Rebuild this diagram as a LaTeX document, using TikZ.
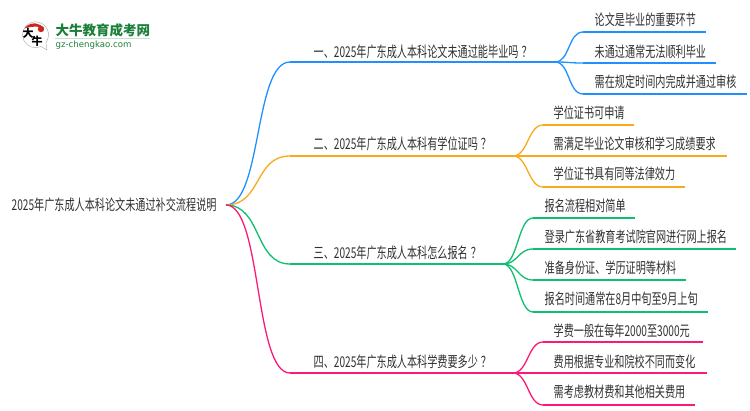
\documentclass[tikz,border=0pt]{standalone}
\usepackage{fontspec}
\setmainfont{Noto Sans CJK SC}[FakeStretch=0.68]
\newfontfamily\logofont{Noto Sans CJK SC}
\newfontfamily\logolatin{DejaVu Sans}
\definecolor{lineblue}{HTML}{2090FF}
\definecolor{lineorange}{HTML}{F8A91C}
\definecolor{linegreen}{HTML}{0DBF6F}
\definecolor{linepink}{HTML}{FB1A78}
\definecolor{logogreen}{HTML}{1B7F3A}
\definecolor{logored}{HTML}{C9261F}
\definecolor{textgray}{HTML}{303030}
\newcommand{\askmark}{\kern3pt？}
\tikzset{
    label node/.style={anchor=west,inner sep=0pt,text=textgray,font=\fontsize{14.9}{16}\selectfont},
    root curve/.style={out=0,in=180,out max distance=36pt,in max distance=36pt,out min distance=36pt,in min distance=36pt},
    leaf curve/.style={out=0,in=180,out max distance=15pt,in max distance=15pt,out min distance=15pt,in min distance=15pt},
}
\begin{document}
\begin{tikzpicture}[x=1pt,y=-1pt,line width=1.3pt]
            \useasboundingbox (0,0) rectangle (750,410);

            % logo
            \draw[line width=0.4pt,draw=black!35,fill=white] (47,50) -- (41,46.5) arc[start angle=65,end angle=395,radius=13] -- (46,43) -- cycle;
            \fill[logored] (24.5,28.5) arc[start angle=215,end angle=325,radius=12] .. controls (40,26) and (30,26) .. cycle;
            \fill[logored] (41,29) circle[radius=3.2];
            \node (logo da) at (28,33) {\logofont\bfseries\fontsize{11}{11}\selectfont 大};
            \node (logo niu) at (37,41) {\logofont\bfseries\fontsize{11}{11}\selectfont 牛};
            \node (logo title) [anchor=west,inner sep=0pt,text=logogreen] at (55,30) {\logofont\bfseries\fontsize{13.5}{14}\selectfont 大牛教育成考网};
            \node (logo url) [anchor=west,inner sep=0pt,text=logogreen] at (55,45) {\logolatin\fontsize{8.6}{9}\selectfont gz-chengkao.com};
            \draw[line width=0.5pt,draw=logogreen!25] (55,38.5) -- (150,38.5);

            % labels
            \node[label node] (root) at (11,205) {2025年广东成人本科论文未通过补交流程说明};

            \node[label node] (b1) at (313,52) {一、2025年广东成人本科论文未通过能毕业吗\askmark};
            \node[label node] (b2) at (313,144) {二、2025年广东成人本科有学位证吗\askmark};
            \node[label node] (b3) at (313,253) {三、2025年广东成人本科怎么报名\askmark};
            \node[label node] (b4) at (313,362) {四、2025年广东成人本科学费要多少\askmark};

            \node[label node] (a1) at (594,20) {论文是毕业的重要环节};
            \node[label node] (a2) at (594,52) {未通过通常无法顺利毕业};
            \node[label node] (a3) at (594,82) {需在规定时间内完成并通过审核};

            \node[label node] (c1) at (553,113) {学位证书可申请};
            \node[label node] (c2) at (553,144) {需满足毕业论文审核和学习成绩要求};
            \node[label node] (c3) at (553,174) {学位证书具有同等法律效力};

            \node[label node] (d1) at (544,206) {报名流程相对简单};
            \node[label node] (d2) at (544,237) {登录广东省教育考试院官网进行网上报名};
            \node[label node] (d3) at (544,268) {准备身份证、学历证明等材料};
            \node[label node] (d4) at (544,299) {报名时间通常在8月中旬至9月上旬};

            \node[label node] (e1) at (553,331) {学费一般在每年2000至3000元};
            \node[label node] (e2) at (553,362) {费用根据专业和院校不同而变化};
            \node[label node] (e3) at (553,392) {需考虑教材费和其他相关费用};

            % line ends
            \coordinate (start) at (226,205);
            \coordinate (b1s) at (290,62);  \coordinate (b1e) at (555,62);
            \coordinate (b2s) at (290,156); \coordinate (b2e) at (513,156);
            \coordinate (b3s) at (290,264); \coordinate (b3e) at (503,264);
            \coordinate (b4s) at (290,373); \coordinate (b4e) at (513,373);

            \coordinate (a1s) at (583,32);  \coordinate (a1e) at (706,32);
            \coordinate (a2s) at (583,63);  \coordinate (a2e) at (716,63);
            \coordinate (a3s) at (583,94);  \coordinate (a3e) at (747,94);
            \coordinate (c1s) at (543,125); \coordinate (c1e) at (634,125);
            \coordinate (c2s) at (543,156); \coordinate (c2e) at (727,156);
            \coordinate (c3s) at (543,187); \coordinate (c3e) at (685,187);
            \coordinate (d1s) at (533,218); \coordinate (d1e) at (635,218);
            \coordinate (d2s) at (533,249); \coordinate (d2e) at (736,249);
            \coordinate (d3s) at (533,280); \coordinate (d3e) at (686,280);
            \coordinate (d4s) at (533,312); \coordinate (d4e) at (708,312);
            \coordinate (e1s) at (543,342); \coordinate (e1e) at (703,342);
            \coordinate (e2s) at (543,373); \coordinate (e2e) at (707,373);
            \coordinate (e3s) at (543,405); \coordinate (e3e) at (695,405);

            \path[draw=lineblue]
                (start) edge[root curve] (b1s)
                (b1s) edge (b1e)
                (b1e) edge[leaf curve] (a1s)
                (a1s) edge (a1e)
                (b1e) edge[leaf curve] (a2s)
                (a2s) edge (a2e)
                (b1e) edge[leaf curve] (a3s)
                (a3s) edge (a3e)
                ;
            \path[draw=lineorange]
                (start) edge[root curve] (b2s)
                (b2s) edge (b2e)
                (b2e) edge[leaf curve] (c1s)
                (c1s) edge (c1e)
                (b2e) edge[leaf curve] (c2s)
                (c2s) edge (c2e)
                (b2e) edge[leaf curve] (c3s)
                (c3s) edge (c3e)
                ;
            \path[draw=linegreen]
                (start) edge[root curve] (b3s)
                (b3s) edge (b3e)
                (b3e) edge[leaf curve] (d1s)
                (d1s) edge (d1e)
                (b3e) edge[leaf curve] (d2s)
                (d2s) edge (d2e)
                (b3e) edge[leaf curve] (d3s)
                (d3s) edge (d3e)
                (b3e) edge[leaf curve] (d4s)
                (d4s) edge (d4e)
                ;
            \path[draw=linepink]
                (start) edge[root curve] (b4s)
                (b4s) edge (b4e)
                (b4e) edge[leaf curve] (e1s)
                (e1s) edge (e1e)
                (b4e) edge[leaf curve] (e2s)
                (e2s) edge (e2e)
                (b4e) edge[leaf curve] (e3s)
                (e3s) edge (e3e)
                ;
        \end{tikzpicture}
\end{document}
